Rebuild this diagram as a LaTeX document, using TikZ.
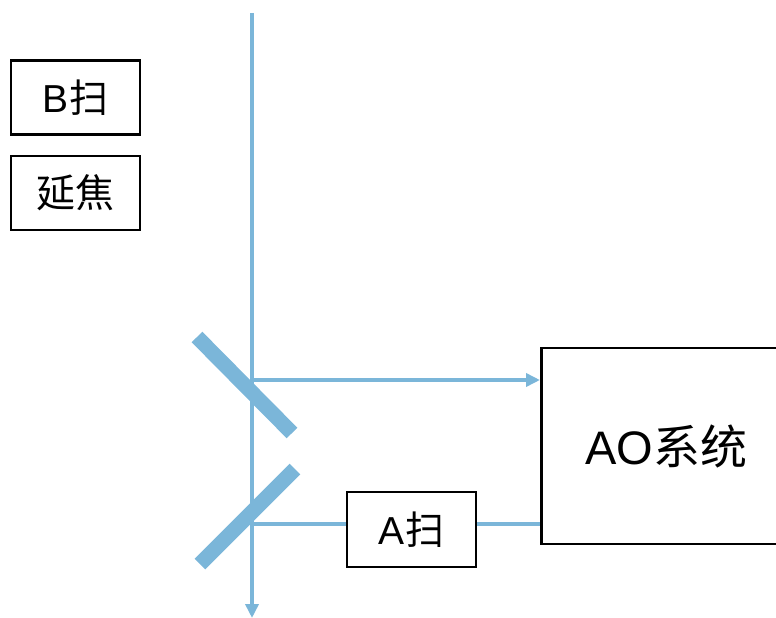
\documentclass[tikz,border=0pt]{standalone}
\usepackage{fontspec}
\setmainfont{Liberation Sans}
\newfontfamily\cjk{Noto Sans CJK SC}
\usetikzlibrary{arrows.meta}
\definecolor{beam}{HTML}{7BB6D9}
\begin{document}
\begin{tikzpicture}[x=1pt,y=-1pt,
  box/.style={draw=black,line width=2.5pt,minimum width=129pt,minimum height=74pt,inner sep=0pt,font=\fontsize{39}{44}\selectfont},
  ray/.style={draw=beam,line width=4pt},
  mirror/.style={draw=beam,line width=15pt},
  tip/.style={-{Triangle[length=14pt,width=13pt]}}]
\useasboundingbox (0,0) rectangle (776,618);
\node[box] (B) at (75.5,97.5) {B{\cjk 扫}};
\node[box] (Y) at (75.5,193) {{\cjk 延焦}};
\node[box,minimum height=75pt] (A) at (411.5,529.5) {A{\cjk 扫}};
\node[box,minimum width=250pt,minimum height=196pt,font=\fontsize{47}{52}\selectfont,anchor=west] (AO) at (540,446) {AO{\cjk 系统}};
\coordinate (m1a) at (197,337);
\coordinate (m1b) at (292,433);
\coordinate (m2a) at (295,469);
\coordinate (m2b) at (200,564);
\coordinate (top) at (252,13);
\coordinate (bot) at (252,618);
\coordinate (j1) at (252,380);
\coordinate (j2) at (252,524);
\draw[mirror] (m1a) -- (m1b);
\draw[mirror] (m2a) -- (m2b);
\draw[ray,tip] (top) -- (bot);
\draw[ray,tip] (j1) -- (j1 -| AO.west);
\draw[ray] (j2) -- (j2 -| A.west);
\draw[ray] (j2 -| A.east) -- (j2 -| AO.west);
\end{tikzpicture}
\end{document}
